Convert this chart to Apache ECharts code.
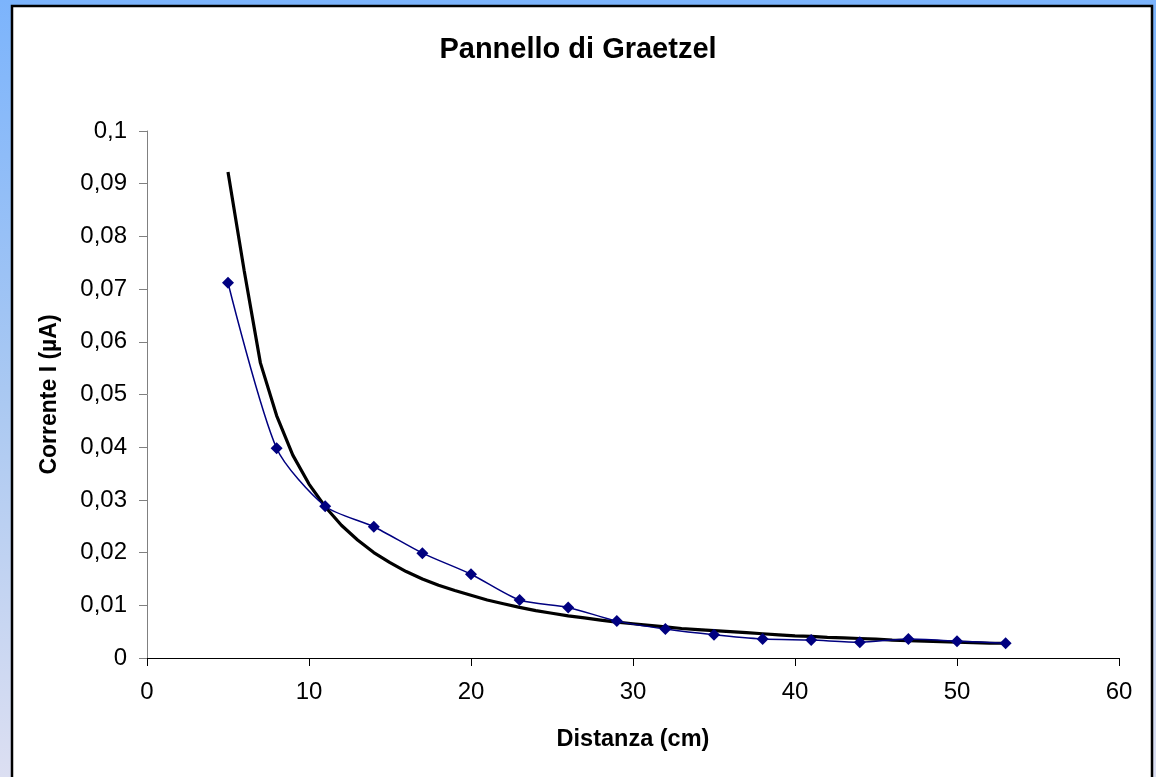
<!DOCTYPE html>
<html>
<head>
<meta charset="utf-8">
<script src="https://cdn.jsdelivr.net/npm/echarts@6/dist/echarts.min.js"></script>
<style>
html,body{margin:0;padding:0;}
#c{width:1156px;height:777px;background:linear-gradient(to bottom,#7cb4fc 0%,#a9c8f2 50%,#dcdff2 100%);}
</style>
</head>
<body>
<div id="c"></div>
<script>
// Measured points (blue series)
const distanze = [5, 8, 11, 14, 17, 20, 23, 26, 29, 32, 35, 38, 41, 44, 47, 50, 53];
const correnti = [0.0712, 0.0398, 0.0288, 0.0249, 0.0199, 0.0159, 0.0110, 0.0096, 0.0070, 0.0055, 0.0044, 0.0036, 0.0034, 0.0030, 0.0036, 0.0032, 0.0028];
// Trend line (black), read at every centimetre
const trendX = [5,6,7,8,9,10,11,12,13,14,15,16,17,18,19,20,21,22,23,24,25,26,27,28,29,30,31,32,33,34,35,36,37,38,39,40,41,42,43,44,45,46,47,48,49,50,51,52,53];
const trendY = [0.0922,0.0735,0.0560,0.0460,0.0385,0.0330,0.0287,0.0252,0.0224,0.0200,0.0181,0.0164,0.0150,0.0138,0.0128,0.0119,0.0110,0.0103,0.0096,0.0090,0.0085,0.0080,0.0076,0.0072,0.0068,0.0065,0.0062,0.0059,0.0056,0.0054,0.0052,0.0050,0.0048,0.0046,0.0044,0.0042,0.0041,0.0039,0.0038,0.0037,0.0036,0.0034,0.0033,0.0032,0.0031,0.0030,0.0029,0.0028,0.0028];
const titleText = 'Pannello di Graetzel';
const xName = 'Distanza (cm)';
const yName = 'Corrente I (\u00b5A)';

const FONT = 'Arial, "Liberation Sans", sans-serif';
const chart = echarts.init(document.getElementById('c'), null, {renderer: 'canvas'});
chart.setOption({
  backgroundColor: 'transparent',
  animation: false,
  graphic: [{
    type: 'rect', z: -10, silent: true,
    shape: {x: 12, y: 6, width: 1140, height: 800},
    style: {fill: '#ffffff', stroke: '#000000', lineWidth: 2.5}
  }],
  title: {
    text: titleText, left: 'center', top: 35, padding: 0,
    textStyle: {fontFamily: FONT, fontSize: 29, fontWeight: 'bold', color: '#000'}
  },
  grid: {left: 147, right: 37, top: 131, bottom: 119, containLabel: false},
  xAxis: {
    type: 'value', min: 0, max: 60, interval: 10,
    name: xName, nameLocation: 'middle', nameGap: 70,
    nameTextStyle: {fontFamily: FONT, fontSize: 23.5, fontWeight: 'bold', color: '#000'},
    axisLine: {show: true, onZero: false, lineStyle: {color: '#000', width: 1}},
    axisTick: {show: true, length: 8, inside: false, lineStyle: {color: '#000'}},
    axisLabel: {fontFamily: FONT, fontSize: 24, color: '#000', margin: 22},
    splitLine: {show: false}
  },
  yAxis: {
    type: 'value', min: 0, max: 0.1, interval: 0.01,
    name: yName, nameLocation: 'middle', nameGap: 86,
    nameTextStyle: {fontFamily: FONT, fontSize: 23, fontWeight: 'bold', color: '#000'},
    axisLine: {show: true, onZero: false, lineStyle: {color: '#808080', width: 1}},
    axisTick: {show: true, length: 8, inside: false, lineStyle: {color: '#808080'}},
    axisLabel: {
      fontFamily: FONT, fontSize: 24, color: '#000', margin: 20,
      formatter: v => String(+v.toFixed(3)).replace('.', ',')
    },
    splitLine: {show: false}
  },
  series: [
    {
      type: 'line', name: 'trend',
      data: trendX.map((x, i) => [x, trendY[i]]),
      showSymbol: false, symbol: 'none', smooth: false,
      lineStyle: {color: '#000000', width: 3.2},
      z: 2
    },
    {
      type: 'line', name: 'misure',
      data: distanze.map((x, i) => [x, correnti[i]]),
      smooth: 0.25,
      symbol: 'diamond', symbolSize: 12,
      itemStyle: {color: '#000080'},
      lineStyle: {color: '#000080', width: 1.5},
      z: 3
    }
  ]
});
</script>
</body>
</html>
